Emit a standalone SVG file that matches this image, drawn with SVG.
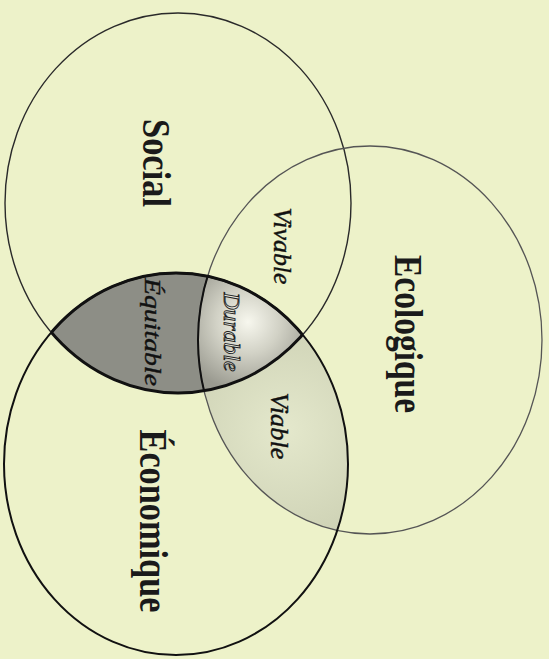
<svg xmlns="http://www.w3.org/2000/svg" width="549" height="659" viewBox="0 0 549 659">
  <style>
    .big { font-family: "Liberation Serif", "Times New Roman", serif; font-weight: bold; font-size: 40px; fill: #1a1a1a; }
    .small { font-family: "Liberation Serif", "Times New Roman", serif; font-style: italic; font-size: 26px; fill: #111; stroke: #111; stroke-width: 0.4; }
    .hollow { font-family: "Liberation Serif", "Times New Roman", serif; font-style: italic; font-size: 24px; fill: #e6e6dc; stroke: #222; stroke-width: 0.9; }
    .outline { fill: none; }
  </style>
  <defs>
    <clipPath id="clipSocial"><ellipse cx="178" cy="203" rx="173" ry="190"/></clipPath>
    <clipPath id="clipEco"><ellipse cx="176" cy="464" rx="172" ry="191"/></clipPath>
    <clipPath id="clipEcol"><ellipse cx="370" cy="340" rx="172" ry="194"/></clipPath>
    <radialGradient id="gDurable" cx="248" cy="322" r="70" gradientUnits="userSpaceOnUse">
      <stop offset="0" stop-color="#f7f7ee"/>
      <stop offset="0.45" stop-color="#d2d2c6"/>
      <stop offset="1" stop-color="#9a9a90"/>
    </radialGradient>
    <radialGradient id="gViable" cx="285" cy="430" r="110" gradientUnits="userSpaceOnUse">
      <stop offset="0" stop-color="#e4e8cc"/>
      <stop offset="1" stop-color="#cfd3b6"/>
    </radialGradient>
  </defs>

  <rect width="549" height="659" fill="#edf2c9"/>

  <g id="region-viable">
    <g clip-path="url(#clipEcol)">
      <ellipse cx="176" cy="464" rx="172" ry="191" fill="url(#gViable)"/>
    </g>
  </g>
  <g id="region-equitable">
    <g clip-path="url(#clipEco)">
      <ellipse cx="178" cy="203" rx="173" ry="190" fill="#8d8e86"/>
    </g>
  </g>
  <g id="region-durable">
    <g clip-path="url(#clipEco)">
      <g clip-path="url(#clipSocial)">
        <ellipse cx="370" cy="340" rx="172" ry="194" fill="url(#gDurable)"/>
      </g>
    </g>
  </g>

  <g id="social">
    <ellipse class="outline" cx="178" cy="203" rx="173" ry="190" stroke="#2a2a2a" stroke-width="1.4"/>
    <text class="big" x="143" y="163" text-anchor="middle" textLength="88" lengthAdjust="spacingAndGlyphs" transform="rotate(90 143 163)">Social</text>
  </g>
  <g id="ecologique">
    <ellipse class="outline" cx="370" cy="340" rx="172" ry="194" stroke="#555" stroke-width="1.3"/>
    <text class="big" x="395" y="334" text-anchor="middle" textLength="158" lengthAdjust="spacingAndGlyphs" transform="rotate(90 395 334)">Ecologique</text>
  </g>
  <g id="economique">
    <ellipse class="outline" cx="176" cy="464" rx="172" ry="191" stroke="#111" stroke-width="2"/>
    <text class="big" x="140" y="521" text-anchor="middle" textLength="183" lengthAdjust="spacingAndGlyphs" transform="rotate(90 140 521)">Économique</text>
  </g>

  <g id="lens-border">
    <g clip-path="url(#clipEco)">
      <ellipse class="outline" cx="178" cy="203" rx="173" ry="190" stroke="#111" stroke-width="3"/>
    </g>
    <g clip-path="url(#clipSocial)">
      <ellipse class="outline" cx="176" cy="464" rx="172" ry="191" stroke="#111" stroke-width="3"/>
      <g clip-path="url(#clipEco)">
        <ellipse class="outline" cx="370" cy="340" rx="172" ry="194" stroke="#111" stroke-width="2"/>
      </g>
    </g>
  </g>

  <g id="vivable">
    <text class="small" x="274" y="246" text-anchor="middle" textLength="77" lengthAdjust="spacingAndGlyphs" transform="rotate(90 274 246)">Vivable</text>
  </g>
  <g id="viable">
    <text class="small" x="271" y="426" text-anchor="middle" textLength="67" lengthAdjust="spacingAndGlyphs" transform="rotate(90 271 426)">Viable</text>
  </g>
  <g id="equitable">
    <text class="small" x="145" y="332" text-anchor="middle" textLength="108" lengthAdjust="spacingAndGlyphs" transform="rotate(90 145 332)" style="font-size:23px">Équitable</text>
  </g>
  <g id="durable">
    <text class="hollow" x="224" y="332" text-anchor="middle" textLength="79" lengthAdjust="spacingAndGlyphs" transform="rotate(90 224 332)">Durable</text>
  </g>
</svg>
